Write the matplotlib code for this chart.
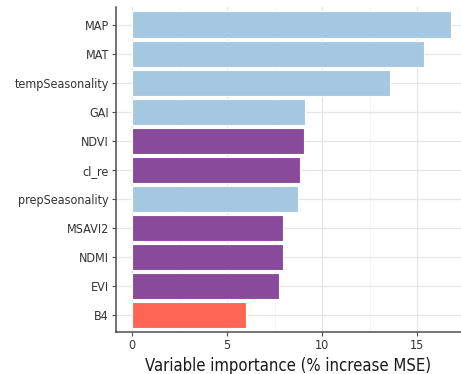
import matplotlib
matplotlib.use("Agg")
import matplotlib.pyplot as plt
from matplotlib.ticker import MultipleLocator

variables = ["MAP", "MAT", "tempSeasonality", "GAI", "NDVI", "cl_re",
             "prepSeasonality", "MSAVI2", "NDMI", "EVI", "B4"]
importance = [16.8, 15.35, 13.55, 9.1, 9.05, 8.85, 8.75, 7.95, 7.95, 7.75, 6.0]
groups = ["climate", "climate", "climate", "climate", "index", "index",
          "climate", "index", "index", "index", "band"]
palette = {"climate": "#a6c7e1", "index": "#8a4a9b", "band": "#fe6653"}

plt.rcParams["font.family"] = ["DejaVu Sans"]
plt.rcParams["font.stretch"] = "condensed"

fig = plt.figure(figsize=(4.61, 3.74), dpi=100)
ax = fig.add_axes([116 / 461, 41.6 / 374, (461 - 116) / 461, (332.4 - 7.1) / 374])

ypos = list(range(len(variables)))[::-1]
ax.barh(ypos, importance, height=0.9,
        color=[palette[g] for g in groups], edgecolor="white", linewidth=0.8,
        zorder=3)

ax.set_yticks(ypos)
ax.set_yticklabels(variables)
ax.set_ylim(-0.6, len(variables) - 0.4)
ax.set_xlim(-0.84, 17.3)
ax.xaxis.set_major_locator(MultipleLocator(5))
ax.xaxis.set_minor_locator(MultipleLocator(2.5))

ax.grid(True, which="major", axis="both", color="#e6e6e6", linewidth=0.9, zorder=0)
ax.grid(True, which="minor", axis="x", color="#f2f2f2", linewidth=0.6, zorder=0)

for side in ["top", "right"]:
    ax.spines[side].set_visible(False)
for side in ["left", "bottom"]:
    ax.spines[side].set_color("#4d4d4d")
    ax.spines[side].set_linewidth(1.1)

ax.tick_params(axis="both", which="major", length=3, width=0.8, color="#4d4d4d",
               labelcolor="#333333", labelsize=9, pad=2)
ax.tick_params(axis="x", which="minor", length=0)

ax.set_xlabel("Variable importance (% increase MSE)", fontsize=12,
              fontweight="medium", color="#1a1a1a", labelpad=3)

fig.savefig("out.png", dpi=100)
